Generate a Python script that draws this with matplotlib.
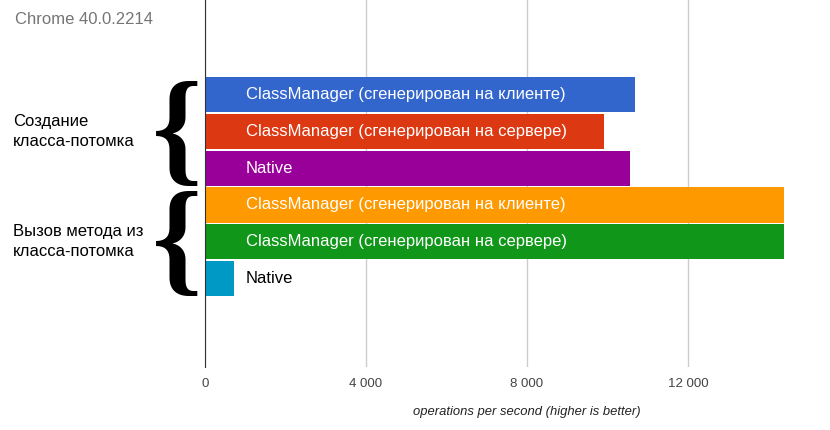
import matplotlib
matplotlib.use("Agg")
import matplotlib.pyplot as plt

# data
series = ["ClassManager (сгенерирован на клиенте)",
          "ClassManager (сгенерирован на сервере)",
          "Native",
          "ClassManager (сгенерирован на клиенте)",
          "ClassManager (сгенерирован на сервере)",
          "Native"]
values = [10680, 9910, 10550, 14380, 14380, 730]
colors = ["#3366CC", "#DC3912", "#990099", "#FF9900", "#109618", "#0099C6"]
groups = ["Создание\nкласса-потомка", "Вызов метода из\nкласса-потомка"]
xticks = [0, 4000, 8000, 12000]
xticklabels = ["0", "4 000", "8 000", "12 000"]

plt.rcParams['font.family'] = ['Liberation Sans', 'DejaVu Sans']

fig = plt.figure(figsize=(8.3, 4.3), dpi=100)
ax = fig.add_axes([205/830, 1 - 367/430, 625/830, 367/430])

pos = list(range(len(values)))
ax.barh(pos, values, height=0.96, color=colors, zorder=2)
for p, v, s in zip(pos, values, series):
    ax.text(1020, p, s, va='center', ha='left', fontsize=12,
            color='white' if v > 5000 else 'black', zorder=3)

ax.set_ylim(7.41, -2.58)
ax.set_xlim(0, 15530)
ax.set_xticks(xticks)
ax.set_xticklabels(xticklabels, fontsize=9.5, color='#444444')
ax.tick_params(axis='x', length=0, pad=8)
ax.set_yticks([])
ax.grid(axis='x', color='#cccccc', linewidth=1, zorder=0)
for s in ['top', 'right', 'bottom']:
    ax.spines[s].set_visible(False)
ax.spines['left'].set_color('#333333')
ax.spines['left'].set_zorder(4)

fig.text(15/830, 1 - 19/430, "Chrome 40.0.2214", fontsize=12, color='#757575',
         va='center', ha='left')
fig.text(527/830, 1 - 412/430, "operations per second (higher is better)",
         fontsize=9.4, style='italic', color='#222222', ha='center', va='center')

# group labels with big braces
for g, yc in zip(groups, [1, 4]):
    yfig = ax.transData.transform((0, yc))[1] / fig.dpi / 4.3
    fig.text(13/830, yfig, g, fontsize=12, ha='left', va='center',
             linespacing=1.45)
    fig.text(177/830, yfig - 7/430, "{", fontsize=92, ha='center', va='center',
             family='Liberation Serif', fontweight='bold')

fig.savefig("out.png", dpi=100)
